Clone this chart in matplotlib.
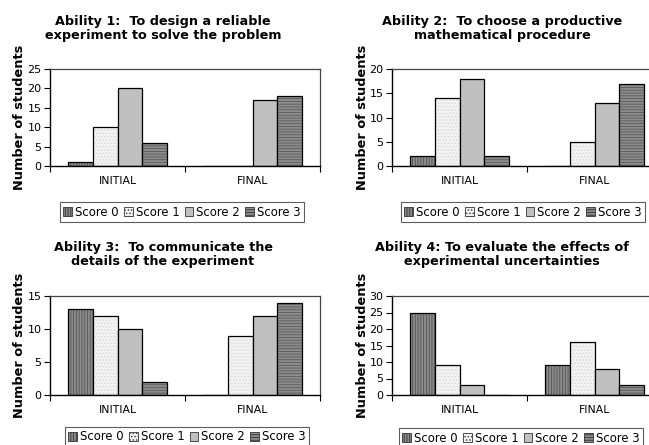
import numpy as np
import matplotlib.pyplot as plt
from matplotlib.patches import Patch

categories = ['INITIAL', 'FINAL']
score_labels = ['Score 0', 'Score 1', 'Score 2', 'Score 3']

# counts per score, [INITIAL, FINAL]
a1_score0 = [1, 0]
a1_score1 = [10, 0]
a1_score2 = [20, 17]
a1_score3 = [6, 18]

a2_score0 = [2, 0]
a2_score1 = [14, 5]
a2_score2 = [18, 13]
a2_score3 = [2, 17]

a3_score0 = [13, 0]
a3_score1 = [12, 9]
a3_score2 = [10, 12]
a3_score3 = [2, 14]

a4_score0 = [25, 9]
a4_score1 = [9, 16]
a4_score2 = [3, 8]
a4_score3 = [0, 3]

titles = ['Ability 1:  To design a reliable\nexperiment to solve the problem',
          'Ability 2:  To choose a productive\nmathematical procedure',
          'Ability 3:  To communicate the\ndetails of the experiment',
          'Ability 4: To evaluate the effects of\nexperimental uncertainties']
y_max = [25, 20, 15, 30]

panels = [[a1_score0, a1_score1, a1_score2, a1_score3],
          [a2_score0, a2_score1, a2_score2, a2_score3],
          [a3_score0, a3_score1, a3_score2, a3_score3],
          [a4_score0, a4_score1, a4_score2, a4_score3]]

# fill, hatch, hatch colour per score
styles = [('#8a8a8a', '||||||', '#555555'),
          ('#f2f2f2', '.....', '#d8d8d8'),
          ('#c0c0c0', '', '#c0c0c0'),
          ('#8c8c8c', '------', '#5a5a5a')]

plt.rcParams['font.family'] = 'DejaVu Sans'
plt.rcParams['hatch.linewidth'] = 0.6

W, H = 649, 445
fig = plt.figure(figsize=(W / 100, H / 100), dpi=100)

# pixel layout: (left, top, bottom) of axes, title centre, ylabel x, legend centre
layout = [
    (50, 69, 166, (163, 28), 20, (182, 212)),
    (392, 69, 166, (502, 28), 363, (523, 212)),
    (50, 296, 395, (163, 254), 20, (187, 437)),
    (392, 296, 395, (502, 254), 363, (521, 438)),
]

bw = 0.185
x = np.arange(len(categories))

for i, (left, top, bottom, tpos, ylx, lpos) in enumerate(layout):
    ax = fig.add_axes([left / W, 1 - bottom / H, 270 / W, (bottom - top) / H])
    for j, vals in enumerate(panels[i]):
        fc, hatch, hc = styles[j]
        pos = x + (j - 1.5) * bw
        ax.bar(pos, vals, bw, color=fc, hatch=hatch, edgecolor=hc, linewidth=0)
        ax.bar(pos, vals, bw, facecolor='none', edgecolor='black', linewidth=0.9)
    ax.set_xlim(-0.5, 1.5)
    ax.set_ylim(0, y_max[i])
    ax.set_yticks(np.arange(0, y_max[i] + 1, 5))
    ax.set_xticks(x)
    ax.set_xticklabels(categories, fontsize=7.8)
    ax.set_xticks([-0.5, 0.5, 1.5], minor=True)
    ax.tick_params(axis='x', which='major', length=0, pad=7)
    ax.tick_params(axis='x', which='minor', length=4, width=0.8, direction='out')
    ax.tick_params(axis='y', length=4, width=0.8, labelsize=8, pad=2)
    for s in ['left', 'bottom']:
        ax.spines[s].set_linewidth(1.0)
    for s in ['top', 'right']:
        ax.spines[s].set_linewidth(0.9)
        ax.spines[s].set_color('#444444')

    fig.text(tpos[0] / W, 1 - tpos[1] / H, titles[i], ha='center', va='center',
             fontsize=9.2, fontweight='bold', linespacing=1.1)
    fig.text(ylx / W, 1 - ((top + bottom) / 2) / H, 'Number of students',
             rotation=90, ha='center', va='center', fontsize=9.3, fontweight='bold')

    handles = [Patch(facecolor=styles[j][0], hatch=styles[j][1], edgecolor='#333333',
                     linewidth=0.6) for j in range(4)]
    leg = fig.legend(handles, score_labels, loc='center',
                     bbox_to_anchor=(lpos[0] / W, 1 - lpos[1] / H), ncol=4,
                     fontsize=8.4, frameon=True, fancybox=False, handlelength=0.75,
                     handleheight=0.75, handletextpad=0.25, columnspacing=0.45,
                     borderpad=0.3, borderaxespad=0)
    leg.get_frame().set_edgecolor('#333333')
    leg.get_frame().set_linewidth(0.8)

fig.savefig('out.png', dpi=100)
